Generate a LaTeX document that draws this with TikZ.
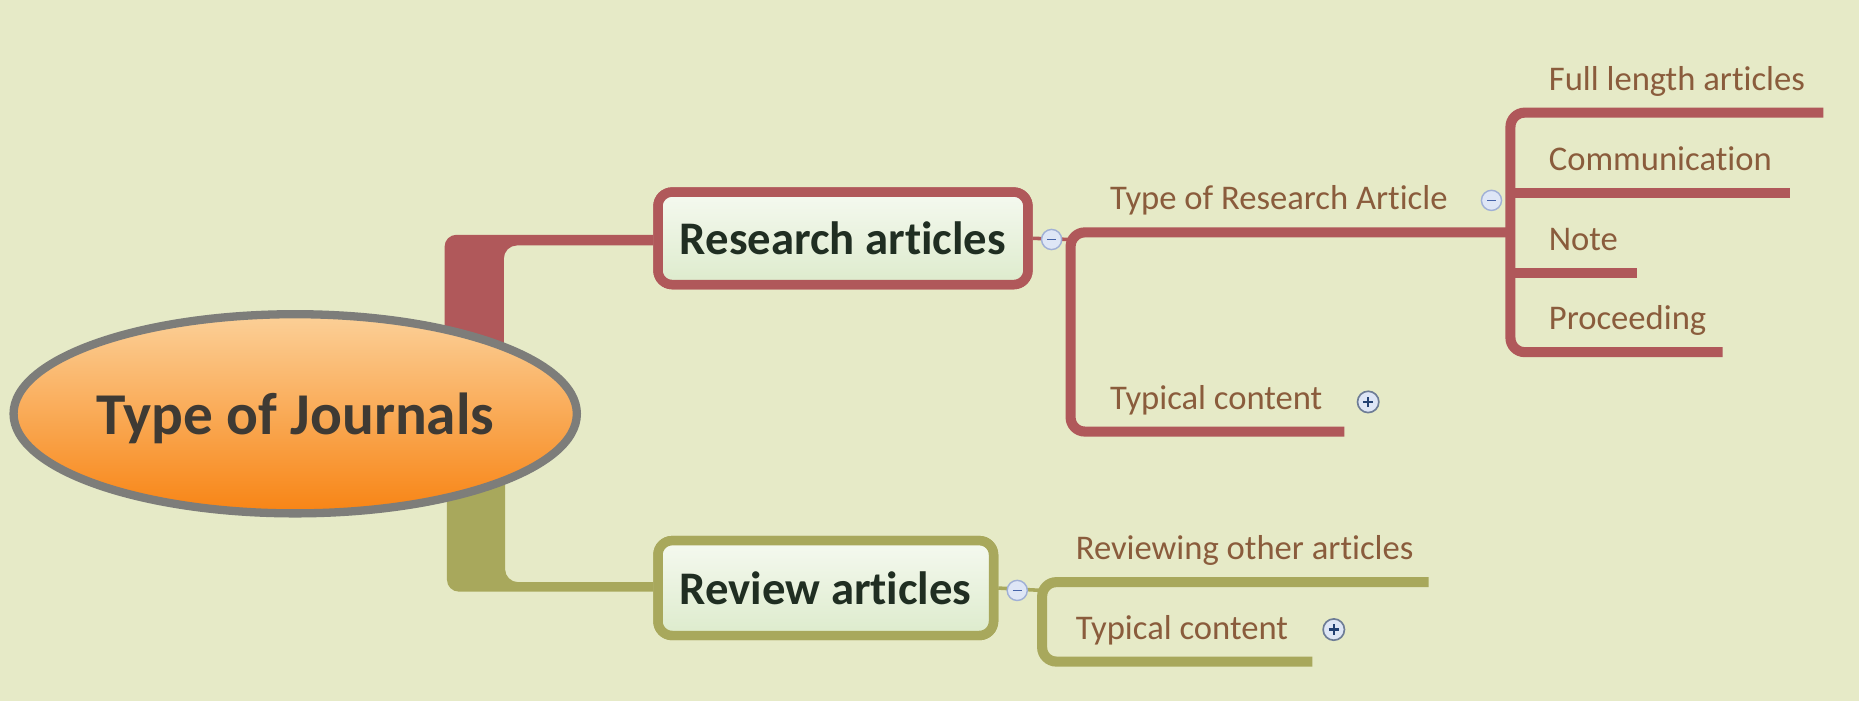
\documentclass[tikz,border=0pt]{standalone}
\usepackage{fontspec}
\setmainfont{Carlito}[Ligatures={NoCommon}]
\usetikzlibrary{shapes.geometric}

\definecolor{bg}{RGB}{230,234,199}
\definecolor{redc}{RGB}{176,88,90}
\definecolor{olivec}{RGB}{168,168,92}
\definecolor{leaftext}{RGB}{138,92,60}
\definecolor{boxtext}{RGB}{32,46,34}
\definecolor{roottext}{RGB}{62,58,52}
\definecolor{rootborder}{RGB}{125,125,122}
\definecolor{orangetop}{RGB}{251,208,152}
\definecolor{orangebot}{RGB}{248,132,20}
\definecolor{boxtop}{RGB}{245,249,240}
\definecolor{boxbot}{RGB}{221,235,204}
\definecolor{togfill}{RGB}{222,230,246}
\definecolor{togdraw}{RGB}{160,176,214}
\definecolor{togsign}{RGB}{70,100,170}
\definecolor{plusdraw}{RGB}{110,125,150}
\definecolor{plussign}{RGB}{35,65,115}

\begin{document}
\begin{tikzpicture}[x=0.5pt,y=-0.5pt,
  rootnode/.style={ellipse, draw=rootborder, line width=3.5pt,
    top color=orangetop, bottom color=orangebot,
    minimum width=233.5pt, minimum height=84pt, inner sep=0pt,
    text=roottext, font=\fontsize{25}{30}\selectfont\bfseries, text depth=0pt},
  topic/.style={rectangle, rounded corners=6pt, line width=4pt,
    top color=boxtop, bottom color=boxbot, inner sep=0pt,
    text=boxtext, font=\fontsize{19.7}{24}\selectfont\bfseries},
  leaf/.style={anchor=base west, inner sep=0pt, text=leaftext,
    font=\fontsize{14.6}{18}\selectfont},
  branch/.style={line width=4.25pt},
  minustog/.style={circle, draw=togdraw, fill=togfill, line width=0.6pt,
    minimum size=8.5pt, inner sep=0pt,
    path picture={\draw[togsign, line width=0.7pt]
      ([xshift=-1.8pt]path picture bounding box.center) -- ++(3.6pt,0);}},
  plustog/.style={circle, draw=plusdraw, fill=togfill, line width=0.7pt,
    minimum size=9pt, inner sep=0pt,
    path picture={\draw[plussign, line width=0.9pt]
      ([xshift=-2.2pt]path picture bounding box.center) -- ++(4.4pt,0)
      ([yshift=-2.2pt]path picture bounding box.center) -- ++(0,4.4pt);}}
]
% canvas
\fill[bg] (0,0) rectangle (1568,591);
\useasboundingbox (0,0) rectangle (1568,591);

% main topics
\node[topic, draw=redc, minimum width=156pt, minimum height=39pt] (rbox) at (711,201) {Research articles};
\node[topic, draw=olivec, minimum width=141.5pt, minimum height=40pt] (vbox) at (696.5,496) {Review articles};

% thick elbow connectors from the central topic
\fill[redc] (375,300) -- (375,208) arc[start angle=180, end angle=90, radius=5pt]
  -- (rbox.west |- 0,198) -- (rbox.west |- 0,207) -- (436,207)
  arc[start angle=90, end angle=180, radius=5.5pt] -- (425,300) -- cycle;
\fill[olivec] (377,400) -- (377,489) arc[start angle=180, end angle=270, radius=5pt]
  -- (vbox.west |- 0,499) -- (vbox.west |- 0,491) -- (437,491)
  arc[start angle=270, end angle=180, radius=5.5pt] -- (426,400) -- cycle;

% central topic
\node[rootnode] (root) at (249,349) {Type of Journals};

% redraw topic borders over the connector ends
\node[topic, draw=redc, minimum width=156pt, minimum height=39pt] at (rbox) {Research articles};
\node[topic, draw=olivec, minimum width=141.5pt, minimum height=40pt] at (vbox) {Review articles};

% junction points
\coordinate (rstem) at (903,202);
\coordinate (rj) at (1274,196);
\coordinate (vstem) at (879,498);

% research branch
\draw[redc, line width=1.5pt] (rbox.east) -- (rstem);
\draw[branch, redc, rounded corners=6pt] (rj) -| (903,364) -- (1134,364);
\draw[branch, redc, rounded corners=6pt] (1538,95) -| (1274,297) -- (1453,297);
\draw[branch, redc] (1274,163) -- (1510,163);
\draw[branch, redc] (1274,230) -- (1381,230);

% review branch
\draw[olivec, line width=1.5pt] (vbox.east) -- (vstem);
\draw[branch, olivec, rounded corners=6pt] (1205,491) -| (879,558) -- (1107,558);

% collapse / expand markers
\node[minustog] (tgR) at (887,202) {};
\node[minustog] (tgTRA) at (1258,169) {};
\node[plustog] (tgTC1) at (1154,339) {};
\node[minustog] (tgV) at (858,498) {};
\node[plustog] (tgTC2) at (1125,531) {};

% subtopic labels
\node[leaf] (tra) at (936,177) {Type of Research Article};
\node[leaf] (tc1) at (936,345) {Typical content};
\node[leaf] (fla) at (1306,76) {Full length articles};
\node[leaf] (com) at (1306,144) {Communication};
\node[leaf] (note) at (1306,211) {Note};
\node[leaf] (proc) at (1306,278) {Proceeding};
\node[leaf] (roa) at (907,472) {Reviewing other articles};
\node[leaf] (tc2) at (907,539) {Typical content};
\end{tikzpicture}
\end{document}
